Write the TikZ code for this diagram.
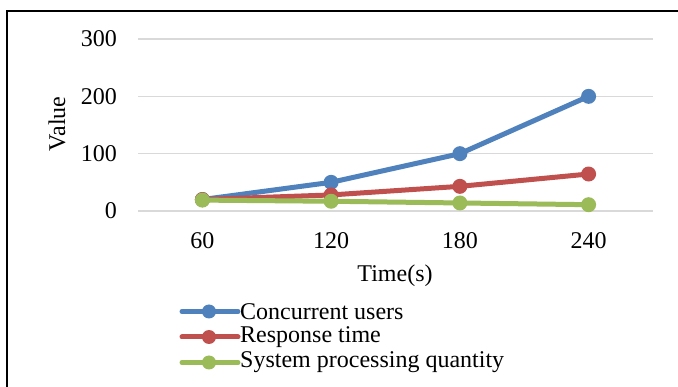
\documentclass[tikz,border=0pt]{standalone}
\usepackage{fontspec}
\setmainfont{Liberation Serif}
\definecolor{cblue}{HTML}{4F81BD}
\definecolor{cred}{HTML}{C0504D}
\definecolor{cgreen}{HTML}{9BBB59}
\definecolor{gridgray}{HTML}{D9D9D9}
\begin{document}
\begin{tikzpicture}[x=1pt,y=-1pt,
  lab/.style={font=\fontsize{24}{28}\selectfont, inner sep=0pt},
  gridline/.style={draw=gridgray, line width=1.5pt},
  ser/.style={line width=5pt, line join=round, line cap=round},
  mk/.style={circle, fill=#1, draw=none, inner sep=0pt, minimum size=15pt},
  lmk/.style={circle, fill=#1, draw=none, inner sep=0pt, minimum size=14pt}]
\useasboundingbox (0,0) rectangle (678,387);
\fill[white] (0,0) rectangle (678,387);
% frame
\coordinate (fb) at (7,387);
\coordinate (fc) at (7,11);
\coordinate (fr) at (678,11);
\draw[line width=2.5pt, line cap=rect] (fb) -- (fc) -- (fr);
% grid
\foreach \v/\n in {0/g0,100/g1,200/g2,300/g3}{
  \coordinate (\n l) at (138,{211-0.5733*\v});
  \coordinate (\n r) at (653,{211-0.5733*\v});
  \draw[gridline] (\n l) -- (\n r);
  \node[lab, anchor=east] (t\n) at (117,{211-0.5733*\v}) {\v};
}
\node[lab, rotate=90] (ylab) at (57,124) {Value};
% x labels
\node[lab] (x60) at (202.4,241) {60};
\node[lab] (x120) at (331.1,241) {120};
\node[lab] (x180) at (459.9,241) {180};
\node[lab] (x240) at (588.6,241) {240};
\node[lab] (xlab) at (395,276) {Time(s)};
% data coordinates
\coordinate (b1) at (202.4,{211-0.5733*20});
\coordinate (b2) at (331.1,{211-0.5733*50});
\coordinate (b3) at (459.9,{211-0.5733*100});
\coordinate (b4) at (588.6,{211-0.5733*200});
\coordinate (r1) at (202.4,{211-0.5733*20});
\coordinate (r2) at (331.1,{211-0.5733*28});
\coordinate (r3) at (459.9,{211-0.5733*43});
\coordinate (r4) at (588.6,{211-0.5733*64.5});
\coordinate (n1) at (202.4,{211-0.5733*19});
\coordinate (n2) at (331.1,{211-0.5733*17});
\coordinate (n3) at (459.9,{211-0.5733*14});
\coordinate (n4) at (588.6,{211-0.5733*11});
% blue series
\draw[ser, cblue] (b1) -- (b2) -- (b3) -- (b4);
\foreach \i in {1,2,3,4}{\node[mk=cblue] (bm\i) at (b\i) {};}
% red series
\draw[ser, cred] (r1) -- (r2) -- (r3) -- (r4);
\foreach \i in {1,2,3,4}{\node[mk=cred] (rm\i) at (r\i) {};}
% green series
\draw[ser, cgreen] (n1) -- (n2) -- (n3) -- (n4);
\foreach \i in {1,2,3,4}{\node[mk=cgreen] (nm\i) at (n\i) {};}
% legend
\foreach \c/\y/\t/\n in {cblue/311.5/Concurrent users/la,cred/337/Response time/lb,cgreen/362.5/System processing quantity/lc}{
  \coordinate (\n s) at (182,\y);
  \coordinate (\n e) at (238,\y);
  \draw[ser, \c] (\n s) -- (\n e);
  \node[lmk=\c] (\n m) at (209,\y) {};
  \node[lab, anchor=west] (\n t) at (240,\y) {\t};
}
\end{tikzpicture}
\end{document}
